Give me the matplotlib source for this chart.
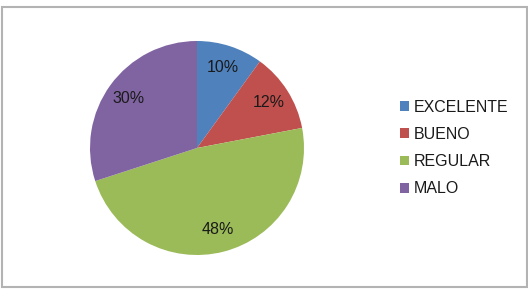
import matplotlib
matplotlib.use("Agg")
import matplotlib.pyplot as plt
from matplotlib.patches import Rectangle

categories = ["EXCELENTE", "BUENO", "REGULAR", "MALO"]
values = [10, 12, 48, 30]
colors = ["#4F81BD", "#C0504D", "#9BBB59", "#8064A2"]

plt.rcParams['font.family'] = ['Liberation Sans', 'DejaVu Sans']

W, H = 528, 289
fig = plt.figure(figsize=(W / 100, H / 100), dpi=100)

# outer border
fig.patches.append(Rectangle((1.5 / W, 2 / H), 525 / W, 280 / H, transform=fig.transFigure,
                             fill=False, edgecolor="#b3b3b3", linewidth=1.5))

cx, cy, r = 197, 289 - 148, 107
ax = fig.add_axes([(cx - r) / W, (cy - r) / H, 2 * r / W, 2 * r / H])
wedges, texts, autotexts = ax.pie(values, colors=colors, startangle=90, counterclock=False,
                                  autopct=lambda p: f"{p:.0f}%", pctdistance=0.79,
                                  wedgeprops=dict(linewidth=0),
                                  textprops=dict(fontsize=11.5, color="#1a1a1a"))
ax.set_xlim(-1, 1)
ax.set_ylim(-1, 1)
ax.set_aspect("equal")
ax.axis("off")

fig.legend(wedges, categories, loc="center left", bbox_to_anchor=(400 / W, 141 / H),
           frameon=False, fontsize=11.5, handlelength=0.55, handleheight=0.55,
           handletextpad=0.3, labelspacing=0.77, borderpad=0, borderaxespad=0,
           labelcolor="#1a1a1a")

fig.savefig("out.png", dpi=100)
